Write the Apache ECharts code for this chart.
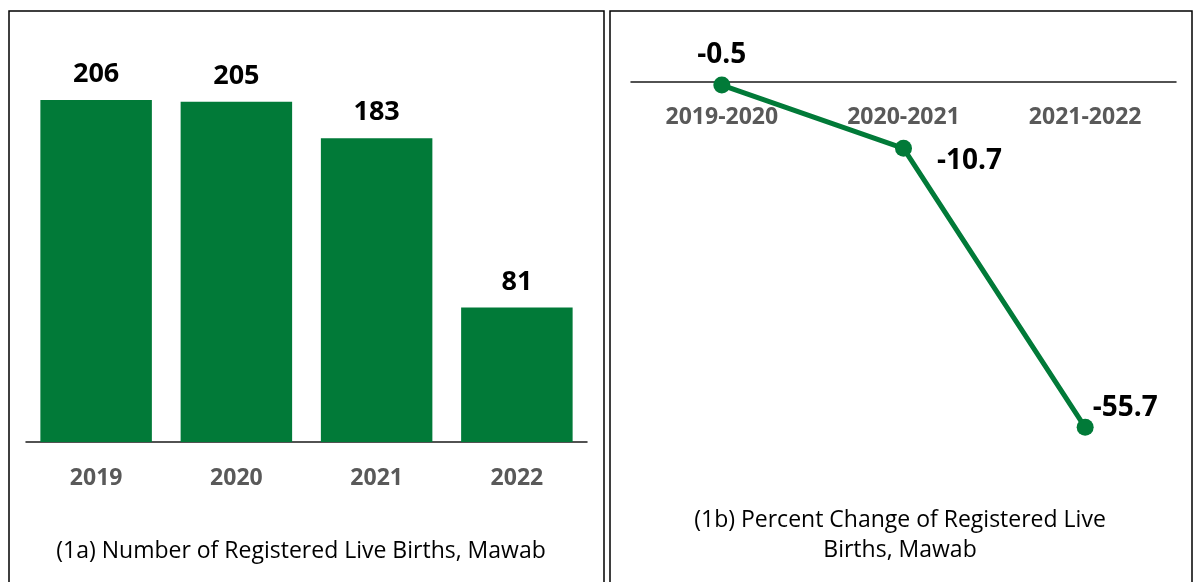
<!DOCTYPE html>
<html>
<head>
<meta charset="utf-8">
<script src="https://cdn.jsdelivr.net/npm/echarts@6/dist/echarts.min.js"></script>
<style>
  html, body { margin: 0; padding: 0; background: #fff; }
  #main { width: 1194px; height: 582px; }
</style>
</head>
<body>
<div id="main"></div>
<script>
// (1a) registered live births
const years = ['2019', '2020', '2021', '2022'];
const births = [206, 205, 183, 81];

// (1b) percent change
const periods = ['2019-2020', '2020-2021', '2021-2022'];
const pctChange = [-0.5, -10.7, -55.7];

const green = '#017a38';
const font = '"Open Sans", "Noto Sans", sans-serif';

const chart = echarts.init(document.getElementById('main'));

// label placement per point of the line
const pctLabels = [
    { position: 'top', offset: [0, -3] },
    { position: 'right', offset: [20, 13] },
    { position: 'right', offset: [-6, -19] }
];

const option = {
    backgroundColor: '#fff',
    animation: false,
    grid: [
        { left: 26, right: 1194 - 587, top: 27, bottom: 140 },
        { left: 631, right: 18, top: 82, bottom: 128 }
    ],
    xAxis: [
        {
            type: 'category',
            gridIndex: 0,
            data: years,
            axisLine: { lineStyle: { color: '#1a1a1a', width: 1.5 } },
            axisTick: { show: false },
            axisLabel: { margin: 25, color: '#595959', fontWeight: 'bold', fontSize: 23, fontFamily: font }
        },
        {
            // the zero line sits at the top of the grid, labels hang below it
            type: 'category',
            gridIndex: 1,
            position: 'top',
            data: periods,
            axisLine: { lineStyle: { color: '#1a1a1a', width: 1.5 } },
            axisTick: { show: false },
            axisLabel: { inside: true, margin: 24, color: '#595959', fontWeight: 'bold', fontSize: 23, fontFamily: font }
        }
    ],
    yAxis: [
        { type: 'value', gridIndex: 0, min: 0, max: 250, show: false },
        { type: 'value', gridIndex: 1, min: -60, max: 0, show: false }
    ],
    series: [
        {
            type: 'bar',
            xAxisIndex: 0,
            yAxisIndex: 0,
            data: births,
            barCategoryGap: '20.5%',
            itemStyle: { color: green },
            label: {
                show: true,
                position: 'top',
                distance: 12,
                color: '#000',
                fontWeight: 'bold',
                fontSize: 27,
                fontFamily: font
            }
        },
        {
            type: 'line',
            xAxisIndex: 1,
            yAxisIndex: 1,
            data: pctChange.map((v, i) => ({
                value: v,
                label: pctLabels[i]
            })),
            symbol: 'circle',
            symbolSize: 17,
            lineStyle: { color: green, width: 5 },
            itemStyle: { color: green },
            label: {
                show: true,
                color: '#000',
                fontWeight: 'bold',
                fontSize: 28,
                fontFamily: font,
                formatter: p => p.value.toFixed(1)
            }
        }
    ],
    graphic: [
        {
            type: 'rect',
            shape: { x: 9, y: 11, width: 595, height: 620 },
            style: { fill: 'none', stroke: '#000', lineWidth: 1.5 }
        },
        {
            type: 'rect',
            shape: { x: 610, y: 11, width: 582, height: 620 },
            style: { fill: 'none', stroke: '#000', lineWidth: 1.5 }
        },
        {
            type: 'text',
            x: 301,
            y: 551,
            style: {
                text: '(1a) Number of Registered Live Births, Mawab',
                fill: '#000',
                font: '23px ' + font,
                textAlign: 'center',
                textVerticalAlign: 'middle'
            }
        },
        {
            type: 'text',
            x: 900,
            y: 535,
            style: {
                text: '(1b) Percent Change of Registered Live\nBirths, Mawab',
                fill: '#000',
                font: '23px ' + font,
                lineHeight: 30,
                textAlign: 'center',
                textVerticalAlign: 'middle'
            }
        }
    ]
};

chart.setOption(option);
</script>
</body>
</html>
